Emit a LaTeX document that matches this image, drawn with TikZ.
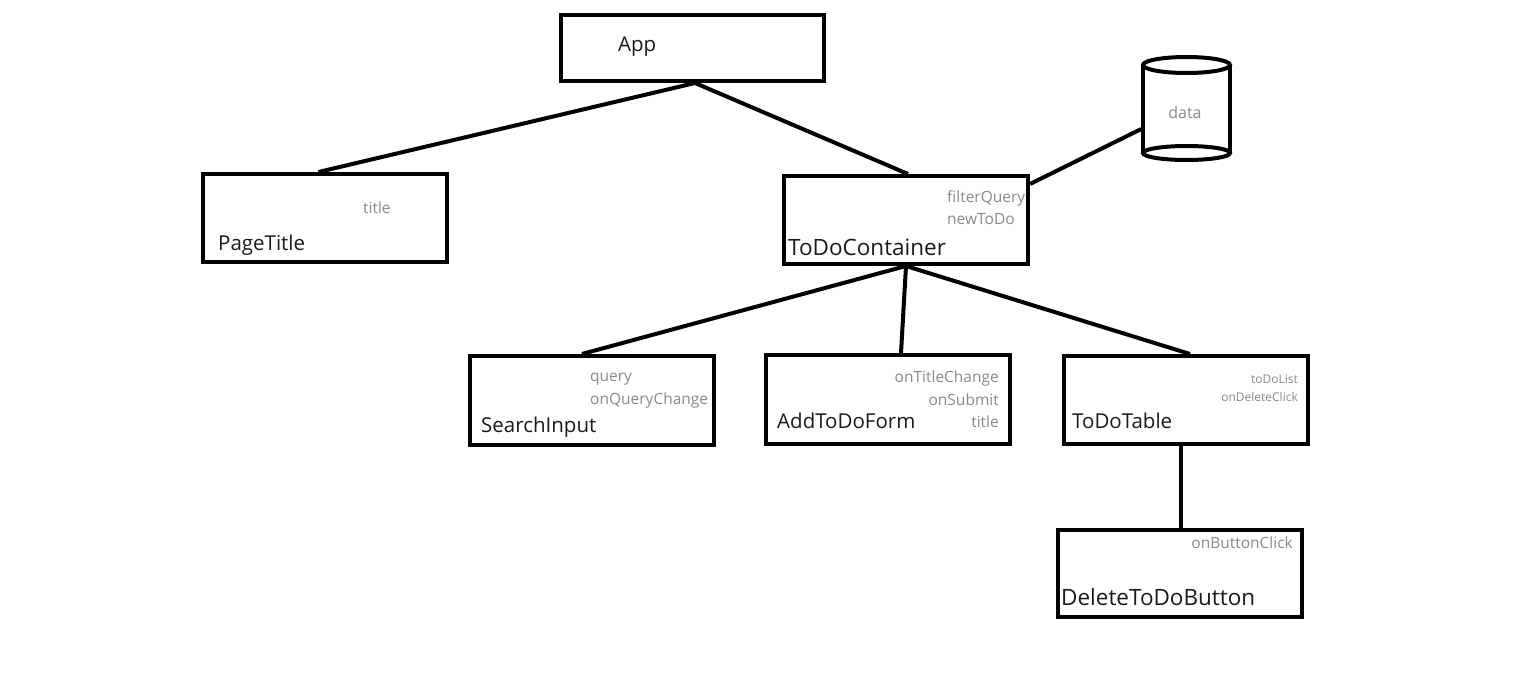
\documentclass[tikz,border=0pt]{standalone}
\usepackage{fontspec}
\setmainfont{Open Sans}
\usetikzlibrary{calc}
\definecolor{propgray}{HTML}{8A8A8A}
\definecolor{inkblack}{HTML}{1A1A1A}
\begin{document}
\begin{tikzpicture}[x=1pt,y=-1pt,
  box/.style={draw=black, line width=4pt, inner sep=0pt, minimum width=244pt, minimum height=88pt},
  link/.style={draw=black, line width=4pt},
  cname/.style={anchor=base west, inner sep=0pt, text=inkblack, font=\fontsize{20.5}{24}\selectfont},
  prop/.style={inner sep=0pt, text=propgray, font=\fontsize{15.5}{18}\selectfont},
  smallprop/.style={inner sep=0pt, text=propgray, font=\fontsize{12}{14}\selectfont}]
\useasboundingbox (0,0) rectangle (1527,698);
\fill[white] (0,0) rectangle (1527,698);

% boxes
\node[box, minimum width=263pt, minimum height=66pt] (app) at (692.5,48) {};
\node[box] (pt) at (324.5,218) {};
\node[box] (tdc) at (906,220) {};
\node[box, minimum height=89pt] (si) at (592,400.5) {};
\node[box, minimum height=89pt] (atf) at (888,399.5) {};
\node[box] (tt) at (1186,400) {};
\node[box, minimum height=87pt] (dtb) at (1180,573.5) {};

% cylinder
\node[inner sep=0pt, minimum width=87pt, minimum height=88pt, text=propgray, font=\fontsize{16}{18}\selectfont] (data) at (1185,113) {data};
\draw[line width=4pt] (1143,65) -- (1143,153);
\draw[line width=4pt] (1230,65) -- (1230,153);
\draw[line width=4pt, fill=white] (1186.5,65) ellipse [x radius=43.5, y radius=8];
\draw[line width=4pt] (1186.5,153) ellipse [x radius=43.5, y radius=7];

% names
\node[cname] (appname) at (618,52) {App};
\node[cname] (ptname) at (218,251) {PageTitle};
\node[cname, font=\fontsize{22.5}{26}\selectfont] (tdcname) at (788,255) {ToDoContainer};
\node[cname] (siname) at (481,432) {SearchInput};
\node[cname] (atfname) at (777,428) {AddToDoForm};
\node[cname] (ttname) at (1072,428) {ToDoTable};
\node[cname, font=\fontsize{22.5}{26}\selectfont] (dtbname) at (1061,605) {DeleteToDoButton};

% props
\node[prop, anchor=base west] (ptp1) at (363,213) {title};
\node[prop, anchor=base west] (tdcp1) at (947,203) {filterQuery};
\node[prop, anchor=base west] (tdcp2) at (947,225) {newToDo};
\node[prop, anchor=base west] (sip1) at (590,381) {query};
\node[prop, anchor=base west] (sip2) at (590,404) {onQueryChange};
\node[prop, anchor=base east] (atfp1) at (999,382) {onTitleChange};
\node[prop, anchor=base east] (atfp2) at (999,405) {onSubmit};
\node[prop, anchor=base east] (atfp3) at (999,427) {title};
\node[smallprop, anchor=base east] (ttp1) at (1298,383) {toDoList};
\node[smallprop, anchor=base east] (ttp2) at (1298,401) {onDeleteClick};
\node[prop, anchor=base east] (dtbp1) at (1293,548) {onButtonClick};

% connectors
\coordinate (appbot) at ($(app.south)+(2.5,0)$);
\draw[link] (appbot) -- ($(pt.north)+(-6,0)$);
\draw[link] (appbot) -- ($(tdc.north)+(2,0)$);
\draw[link] ($(tdc.north east)+(0,10)$) -- ($(data.west)+(0,16)$);
\coordinate (tdcbot) at (tdc.south);
\draw[link] (tdcbot) -- ($(si.north)+(-10,0)$);
\draw[link] (tdcbot) -- ($(atf.north)+(13,0)$);
\draw[link] (tdcbot) -- ($(tt.north)+(4,0)$);
\draw[link] ($(tt.south)+(-5,0)$) -- ($(dtb.north)+(1,0)$);
\end{tikzpicture}
\end{document}
